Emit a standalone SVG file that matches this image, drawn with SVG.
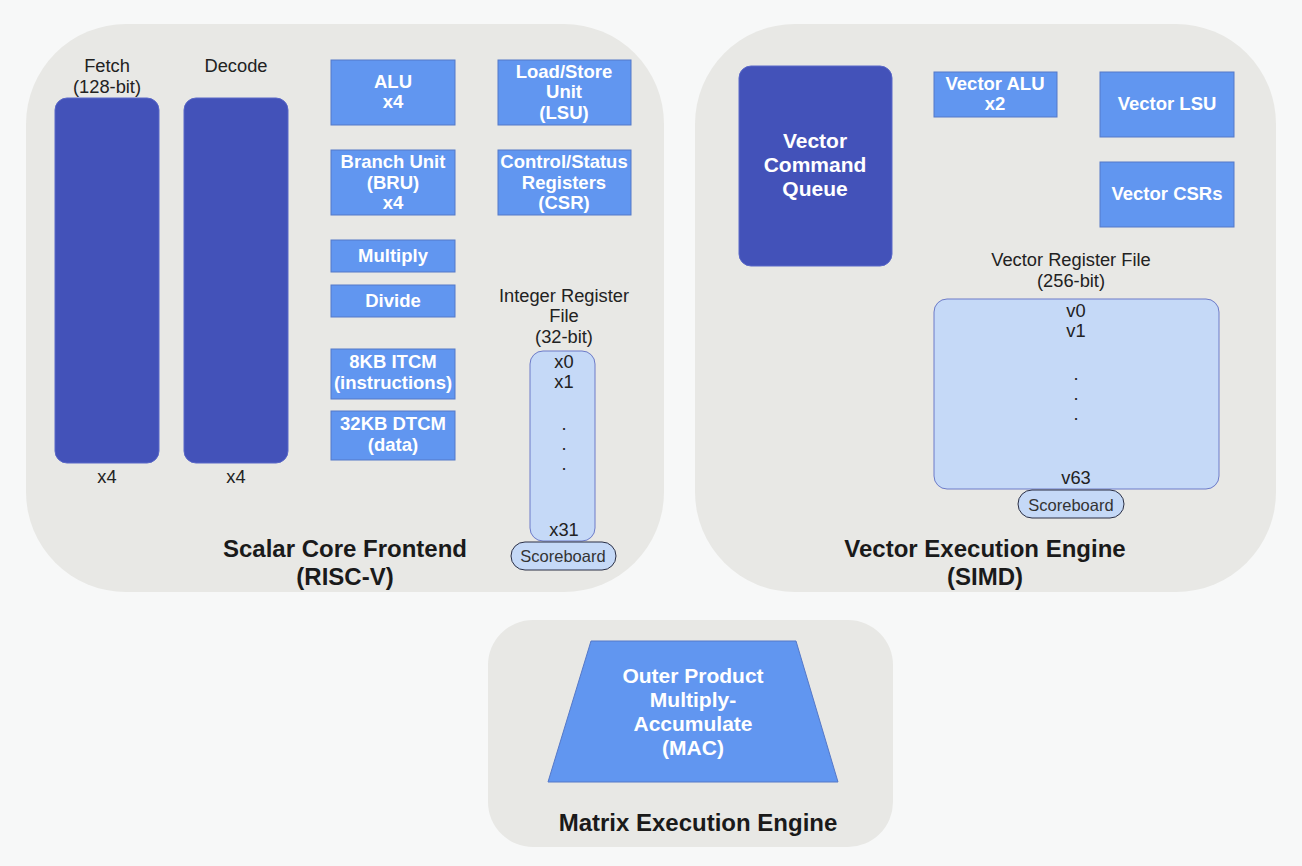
<svg xmlns="http://www.w3.org/2000/svg" width="1302" height="866" viewBox="0 0 1302 866">
<style>
.cont{fill:#e8e8e5;}
.dark{fill:#4352b9;stroke:#5a68c8;stroke-width:1;}
.unit{fill:#6196f0;stroke:#5578c8;stroke-width:1;}
.reg{fill:#c5d9f7;stroke:#6d7bc8;stroke-width:1;}
.sb{fill:#c5d9f7;stroke:#2a2f45;stroke-width:1;}
.lbl{font-family:"Liberation Sans",Arial,sans-serif;font-size:18.3px;fill:#222;text-anchor:middle;}
.wt{font-family:"Liberation Sans",Arial,sans-serif;font-size:18.5px;font-weight:bold;fill:#fff;text-anchor:middle;}
.wt2{font-family:"Liberation Sans",Arial,sans-serif;font-size:21px;font-weight:bold;fill:#fff;text-anchor:middle;}
.ttl{font-family:"Liberation Sans",Arial,sans-serif;font-size:24px;font-weight:bold;fill:#1a1a1a;text-anchor:middle;}
.sbt{font-family:"Liberation Sans",Arial,sans-serif;font-size:16.5px;fill:#333;text-anchor:middle;}
</style>
<rect width="1302" height="866" fill="#f7f8f8"/>

<g id="scalar-core">
<rect class="cont" x="26" y="24" width="638" height="568" rx="100"/>
<text class="ttl" x="345" y="557">Scalar Core Frontend</text>
<text class="ttl" x="345" y="585">(RISC-V)</text>
</g>
<g id="fetch">
<text class="lbl" x="107" y="72">Fetch</text>
<text class="lbl" x="107" y="93">(128-bit)</text>
<rect class="dark" x="55" y="98" width="104" height="365" rx="12"/>
<text class="lbl" x="107" y="483">x4</text>
</g>
<g id="decode">
<text class="lbl" x="236" y="72">Decode</text>
<rect class="dark" x="184" y="98" width="104" height="365" rx="12"/>
<text class="lbl" x="236" y="483">x4</text>
</g>
<g id="alu">
<rect class="unit" x="331" y="60" width="124" height="65"/>
<text class="wt" x="393" y="88">ALU</text>
<text class="wt" x="393" y="108">x4</text>
</g>
<g id="lsu">
<rect class="unit" x="498" y="60" width="133" height="65"/>
<text class="wt" x="564" y="78">Load/Store</text>
<text class="wt" x="564" y="98">Unit</text>
<text class="wt" x="564" y="119">(LSU)</text>
</g>
<g id="bru">
<rect class="unit" x="331" y="150" width="124" height="65"/>
<text class="wt" x="393" y="168">Branch Unit</text>
<text class="wt" x="393" y="189">(BRU)</text>
<text class="wt" x="393" y="209">x4</text>
</g>
<g id="csr">
<rect class="unit" x="498" y="150" width="133" height="65"/>
<text class="wt" x="564" y="168">Control/Status</text>
<text class="wt" x="564" y="189">Registers</text>
<text class="wt" x="564" y="209">(CSR)</text>
</g>
<g id="multiply">
<rect class="unit" x="331" y="240" width="124" height="32"/>
<text class="wt" x="393" y="262">Multiply</text>
</g>
<g id="divide">
<rect class="unit" x="331" y="285" width="124" height="32"/>
<text class="wt" x="393" y="307">Divide</text>
</g>
<g id="itcm">
<rect class="unit" x="331" y="349" width="124" height="50"/>
<text class="wt" x="393" y="368">8KB ITCM</text>
<text class="wt" x="393" y="389">(instructions)</text>
</g>
<g id="dtcm">
<rect class="unit" x="331" y="411" width="124" height="49"/>
<text class="wt" x="393" y="430">32KB DTCM</text>
<text class="wt" x="393" y="451">(data)</text>
</g>
<g id="int-regfile">
<text class="lbl" x="564" y="302">Integer Register</text>
<text class="lbl" x="564" y="322">File</text>
<text class="lbl" x="564" y="343">(32-bit)</text>
<rect class="reg" x="530" y="351" width="65" height="190" rx="13"/>
<text class="lbl" x="564" y="368">x0</text>
<text class="lbl" x="564" y="388">x1</text>
<text class="lbl" x="564" y="430">.</text>
<text class="lbl" x="564" y="450">.</text>
<text class="lbl" x="564" y="470">.</text>
<text class="lbl" x="564" y="536">x31</text>
</g>
<g id="int-scoreboard">
<rect class="sb" x="511" y="542" width="105" height="28" rx="14"/>
<text class="sbt" x="563" y="562">Scoreboard</text>
</g>

<g id="vector-engine">
<rect class="cont" x="695" y="24" width="581" height="568" rx="100"/>
<text class="ttl" x="985" y="557">Vector Execution Engine</text>
<text class="ttl" x="985" y="585">(SIMD)</text>
</g>
<g id="vcq">
<rect class="dark" x="739" y="66" width="153" height="200" rx="12"/>
<text class="wt2" x="815" y="148">Vector</text>
<text class="wt2" x="815" y="172">Command</text>
<text class="wt2" x="815" y="196">Queue</text>
</g>
<g id="valu">
<rect class="unit" x="934" y="72" width="123" height="45"/>
<text class="wt" x="995" y="90">Vector ALU</text>
<text class="wt" x="995" y="110">x2</text>
</g>
<g id="vlsu">
<rect class="unit" x="1100" y="72" width="134" height="65"/>
<text class="wt" x="1167" y="110">Vector LSU</text>
</g>
<g id="vcsr">
<rect class="unit" x="1100" y="162" width="134" height="65"/>
<text class="wt" x="1167" y="200">Vector CSRs</text>
</g>
<g id="vec-regfile">
<text class="lbl" x="1071" y="266">Vector Register File</text>
<text class="lbl" x="1071" y="287">(256-bit)</text>
<rect class="reg" x="934" y="299" width="285" height="190" rx="13"/>
<text class="lbl" x="1076" y="317">v0</text>
<text class="lbl" x="1076" y="337">v1</text>
<text class="lbl" x="1076" y="380">.</text>
<text class="lbl" x="1076" y="400">.</text>
<text class="lbl" x="1076" y="420">.</text>
<text class="lbl" x="1076" y="484">v63</text>
</g>
<g id="vec-scoreboard">
<rect class="sb" x="1018" y="490" width="106" height="28" rx="14"/>
<text class="sbt" x="1071" y="511">Scoreboard</text>
</g>

<g id="matrix-engine">
<rect class="cont" x="488" y="620" width="405" height="227" rx="45"/>
<text class="ttl" x="698" y="831">Matrix Execution Engine</text>
</g>
<g id="mac">
<polygon class="unit" points="591,641 796,641 838,782 548,782"/>
<text class="wt2" x="693" y="683">Outer Product</text>
<text class="wt2" x="693" y="707">Multiply-</text>
<text class="wt2" x="693" y="731">Accumulate</text>
<text class="wt2" x="693" y="755">(MAC)</text>
</g>

<g id="connectors"></g>
</svg>
